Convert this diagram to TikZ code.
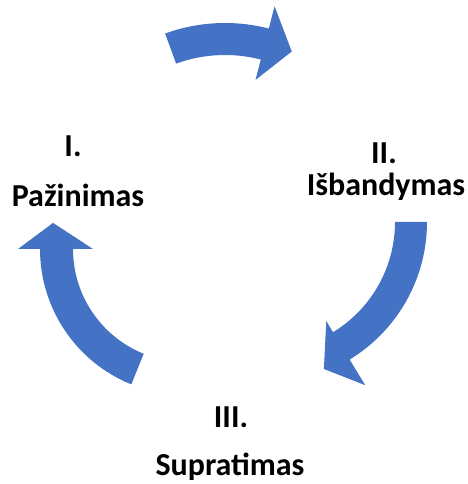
\documentclass[tikz,border=0pt]{standalone}
\usepackage{fontspec}
\setmainfont{Carlito}
\usetikzlibrary{positioning}
\definecolor{cycleblue}{HTML}{4472C4}
\tikzset{cyclearrow/.style={fill=cycleblue}}
\tikzset{steplabel/.style={font=\bfseries\fontsize{24}{28}\selectfont, anchor=base, inner sep=0pt}}

\begin{document}
\begin{tikzpicture}[x=0.75pt,y=0.75pt]
\useasboundingbox (0,0) rectangle (467,484);
% arrow I -> II
\begin{scope}[shift={(225,286)}]
\fill[cyclearrow] (110:175) arc[start angle=110,end angle=75.5,radius=175] -- (75.5:198) -- (65.5:161) -- (75.5:122) -- (75.5:143) arc[start angle=75.5,end angle=110,radius=143] -- cycle;
\end{scope}
% arrow II -> III
\begin{scope}[shift={(266,262)}]
\fill[cyclearrow] (0:161) arc[start angle=0,end angle=-58.7,radius=161] -- (-58.7:191) -- (-68.5:158) -- (-58.7:116) -- (-58.7:129) arc[start angle=-58.7,end angle=0,radius=129] -- cycle;
\end{scope}
% arrow III -> I
\begin{scope}[shift={(186,235)}]
\fill[cyclearrow] (248:146) arc[start angle=248,end angle=180,radius=146] -- (180:168) -- (168.9:135.5) -- (180:93) -- (180:113) arc[start angle=180,end angle=248,radius=113] -- cycle;
\end{scope}
% labels
\node[steplabel] (num1) at (73,327) {I.};
\node[steplabel] (name1) at (78,277) {Pažinimas};
\node[steplabel] (num2) at (384,320) {II.};
\node[steplabel] (name2) at (386,288) {Išbandymas};
\node[steplabel] (num3) at (231,56) {III.};
\node[steplabel] (name3) at (230,8) {Supratimas};
\end{tikzpicture}
\end{document}
